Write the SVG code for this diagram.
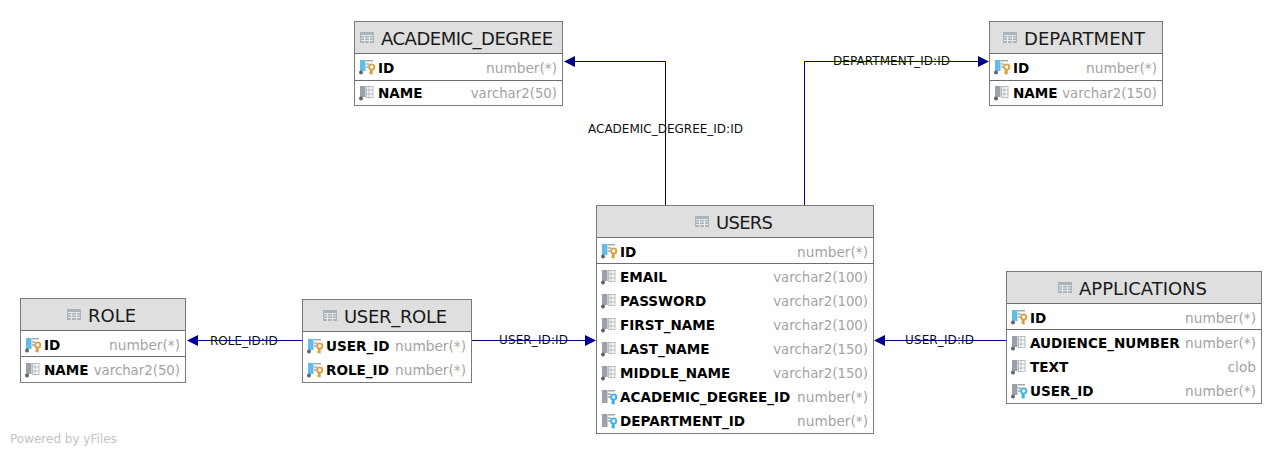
<svg xmlns="http://www.w3.org/2000/svg" width="1283" height="455" viewBox="0 0 1283 455">
<style>
text{font-family:"DejaVu Sans",sans-serif}
.box{fill:#fff;stroke:#7b7b7b;stroke-width:1}
.head{fill:#dfdfdf}
.sep{stroke:#6e6e6e;stroke-width:1}
.title{font-size:18px;fill:#1a1a1a}
.col{font-size:13.55px;font-weight:700;fill:#000}
.type{font-size:13.7px;fill:#a3a3a3;text-anchor:end}
.vc{font-size:13.3px}
.lbl{font-size:12px;fill:#111}
.edge{fill:none;stroke:#000080;stroke-width:1}
.arrow{fill:#000080}
.grid{fill:#fafafa;stroke:#a8aeb3;stroke-width:.8}
.tick{stroke:#a4abb0;stroke-width:1.4;fill:none}
.bar{fill:#9aa2a8}
.bluebar{fill:#62bde6}
.dot{fill:#5f6468}
.kp{fill:none;stroke:#dba040;stroke-width:1.9}
.kf{fill:none;stroke:#38b3e6;stroke-width:1.9}
</style>
<defs>
<g id="tbl"><rect x="0" y="0" width="14" height="11" fill="#a9b3bb"/><path d="M1 3.5H13M1 6H13M1 8.5H13M4.5 3V11M9.5 3V11" stroke="#e6e8ea" stroke-width="1" fill="none"/></g>
<g id="base"><rect class="bar" x="1" y="0" width="5.5" height="11"/><circle class="dot" cx="2" cy="12.5" r="2"/><rect class="grid" x="7.5" y=".5" width="6.5" height="11"/><path class="grid" d="M7.5 4H14M7.5 8H14M10 .5V11.5"/></g>
<g id="pk"><rect class="bluebar" x="1" y="0" width="5.5" height="11"/><circle class="dot" cx="2" cy="12.5" r="2"/><path class="tick" d="M7 .8H14M7 4H10M7 7H9.5"/><circle class="kp" cx="12.7" cy="7" r="2.6"/><path class="kp" d="M12.7 9.5V14.5M12.7 13H10.5M12.7 11H10.8"/></g>
<g id="fk"><rect class="bar" x="1" y="0" width="5.5" height="11"/><circle class="dot" cx="2" cy="12.5" r="2"/><path class="tick" d="M7 .8H14M7 4H10M7 7H9.5"/><circle class="kf" cx="12.7" cy="7" r="2.6"/><path class="kf" d="M12.7 9.5V14.5M12.7 13H10.5M12.7 11H10.8"/></g>
<g id="fkb"><rect class="bar" x="1" y="0" width="5.5" height="13"/><path class="tick" d="M7 .8H14M7 4H10M7 7H9.5"/><circle class="kf" cx="12.7" cy="7" r="2.6"/><path class="kf" d="M12.7 9.5V14.5M12.7 13H10.5M12.7 11H10.8"/></g>
</defs>
<rect width="1283" height="455" fill="#fff"/>
<g id="connectors">
<path class="edge" d="M665.5 205V61.5H574"/><path class="arrow" d="M564 61.5L575 56V67Z"/>
<path class="edge" d="M804.5 205V61.5H978"/><path class="arrow" d="M989 61.5L978 56V67Z"/>
<path class="edge" d="M302 340.5H197"/><path class="arrow" d="M187 340.5L198 335V346Z"/>
<path class="edge" d="M472 340.5H585"/><path class="arrow" d="M596 340.5L585 335V346Z"/>
<path class="edge" d="M1006 340.5H885"/><path class="arrow" d="M874 340.5L885 335V346Z"/>
<text class="lbl" x="588" y="133">ACADEMIC_DEGREE_ID:ID</text>
<text class="lbl" x="833" y="65" textLength="117">DEPARTMENT_ID:ID</text>
<text class="lbl" x="210" y="345">ROLE_ID:ID</text>
<text class="lbl" x="499" y="344" textLength="69">USER_ID:ID</text>
<text class="lbl" x="905" y="344" textLength="69">USER_ID:ID</text>
</g>
<g id="academic_degree">
<rect class="box" x="354.5" y="21.5" width="208" height="84"/><rect class="head" x="355" y="22" width="207" height="31"/>
<path class="sep" d="M355 53.5H562M355 80.5H562"/>
<use href="#tbl" x="360" y="32"/><text class="title" x="381" y="45" textLength="172">ACADEMIC_DEGREE</text>
<use href="#pk" x="359" y="60"/><text class="col" x="378" y="73">ID</text><text class="type" x="557" y="73">number(*)</text>
<use href="#base" x="359" y="86"/><text class="col" x="378" y="98">NAME</text><text class="type vc" x="557" y="98">varchar2(50)</text>
</g>
<g id="department">
<rect class="box" x="989.5" y="21.5" width="173" height="84"/><rect class="head" x="990" y="22" width="172" height="31"/>
<path class="sep" d="M990 53.5H1162M990 80.5H1162"/>
<use href="#tbl" x="1003" y="32"/><text class="title" x="1024" y="45" textLength="121">DEPARTMENT</text>
<use href="#pk" x="994" y="60"/><text class="col" x="1013" y="73">ID</text><text class="type" x="1157" y="73">number(*)</text>
<use href="#base" x="994" y="86"/><text class="col" x="1013" y="98">NAME</text><text class="type vc" x="1157" y="98">varchar2(150)</text>
</g>
<g id="users">
<rect class="box" x="596.5" y="205.5" width="277" height="228"/><rect class="head" x="597" y="206" width="276" height="31"/>
<path class="sep" d="M597 237.5H873M597 263.5H873"/>
<use href="#tbl" x="695" y="216"/><text class="title" x="716" y="229" textLength="57">USERS</text>
<use href="#pk" x="601" y="244"/><text class="col" x="620" y="257">ID</text><text class="type" x="868" y="257">number(*)</text>
<use href="#base" x="601" y="270"/><text class="col" x="620" y="282">EMAIL</text><text class="type vc" x="868" y="282">varchar2(100)</text>
<use href="#base" x="601" y="294"/><text class="col" x="620" y="306">PASSWORD</text><text class="type vc" x="868" y="306">varchar2(100)</text>
<use href="#base" x="601" y="318"/><text class="col" x="620" y="330">FIRST_NAME</text><text class="type vc" x="868" y="330">varchar2(100)</text>
<use href="#base" x="601" y="342"/><text class="col" x="620" y="354">LAST_NAME</text><text class="type vc" x="868" y="354">varchar2(150)</text>
<use href="#base" x="601" y="366"/><text class="col" x="620" y="378">MIDDLE_NAME</text><text class="type vc" x="868" y="378">varchar2(150)</text>
<use href="#fkb" x="601" y="390"/><text class="col" x="620" y="402">ACADEMIC_DEGREE_ID</text><text class="type" x="868" y="402">number(*)</text>
<use href="#fkb" x="601" y="414"/><text class="col" x="620" y="426">DEPARTMENT_ID</text><text class="type" x="868" y="426">number(*)</text>
</g>
<g id="applications">
<rect class="box" x="1006.5" y="271.5" width="255" height="132"/><rect class="head" x="1007" y="272" width="254" height="31"/>
<path class="sep" d="M1007 303.5H1261M1007 329.5H1261"/>
<use href="#tbl" x="1058" y="282"/><text class="title" x="1079" y="295" textLength="128">APPLICATIONS</text>
<use href="#pk" x="1011" y="310"/><text class="col" x="1030" y="323">ID</text><text class="type" x="1256" y="323">number(*)</text>
<use href="#base" x="1011" y="336"/><text class="col" x="1030" y="348">AUDIENCE_NUMBER</text><text class="type" x="1256" y="348">number(*)</text>
<use href="#base" x="1011" y="360"/><text class="col" x="1030" y="372">TEXT</text><text class="type" x="1256" y="372">clob</text>
<use href="#fk" x="1011" y="384"/><text class="col" x="1030" y="396">USER_ID</text><text class="type" x="1256" y="396">number(*)</text>
</g>
<g id="role">
<rect class="box" x="20.5" y="298.5" width="165" height="84"/><rect class="head" x="21" y="299" width="164" height="31"/>
<path class="sep" d="M21 330.5H185M21 356.5H185"/>
<use href="#tbl" x="67" y="309"/><text class="title" x="88" y="322" textLength="48">ROLE</text>
<use href="#pk" x="25" y="338"/><text class="col" x="44" y="350">ID</text><text class="type" x="180" y="350">number(*)</text>
<use href="#base" x="25" y="363"/><text class="col" x="44" y="375">NAME</text><text class="type vc" x="180" y="375">varchar2(50)</text>
</g>
<g id="user_role">
<rect class="box" x="302.5" y="299.5" width="169" height="83"/><rect class="head" x="303" y="300" width="168" height="31"/>
<path class="sep" d="M303 331.5H471"/>
<use href="#tbl" x="323" y="310"/><text class="title" x="344" y="323" textLength="103">USER_ROLE</text>
<use href="#pk" x="307" y="339"/><text class="col" x="326" y="351">USER_ID</text><text class="type" x="466" y="351">number(*)</text>
<use href="#pk" x="307" y="363"/><text class="col" x="326" y="375">ROLE_ID</text><text class="type" x="466" y="375">number(*)</text>
</g>
<text x="10" y="443" font-size="12" fill="#c4c4c4">Powered by yFiles</text>
</svg>
